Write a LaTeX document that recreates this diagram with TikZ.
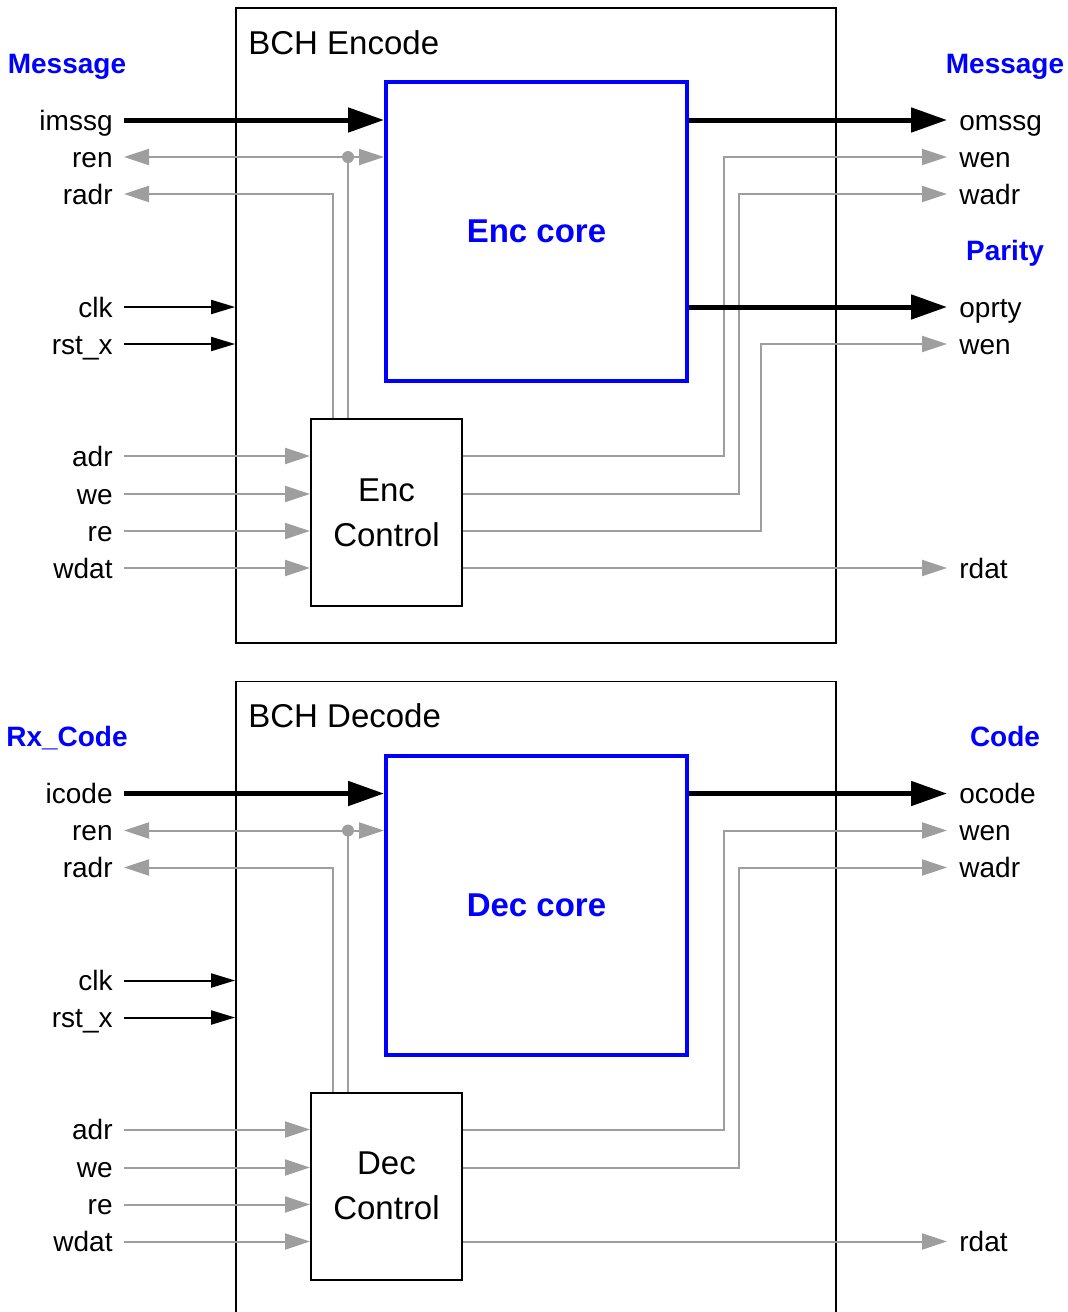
\documentclass[tikz,border=0pt]{standalone}
\usepackage{fontspec}
\setmainfont{Liberation Sans}
\usetikzlibrary{arrows.meta}
\definecolor{sigray}{HTML}{9E9E9E}

% One BCH block: frame, core, control unit and its ports
% #1 title, #2 core text, #3 control name, #4 input heading,
% #5 input port, #6 output heading, #7 output port
\newcommand\bchblock[7]{%
  \node[outerbox] (frame) at (536,325.5) {};
  \node[title] (ttl) at (248,54) {#1};
  \node[core] (core) at (536.5,231.5) {#2};
  \node[ctlbox] (ctl) at (386.5,512.5) {#3\\Control};
  \node[head] (hin) at (67,63) {#4};
  \node[head] (hout) at (1005,63) {#6};
  \node[lin] (in) at (124,120) {#5};
  \node[lin] (ren) at (124,157) {ren};
  \node[lin] (radr) at (124,194) {radr};
  \node[lin] (clk) at (124,307) {clk};
  \node[lin] (rst) at (124,344) {rst\_x};
  \node[lin] (adr) at (124,456) {adr};
  \node[lin] (we) at (124,494) {we};
  \node[lin] (re) at (124,531) {re};
  \node[lin] (wdat) at (124,568) {wdat};
  \node[lout] (out) at (947,120) {#7};
  \node[lout] (wen) at (947,157) {wen};
  \node[lout] (wadr) at (947,194) {wadr};
  \node[lout] (rdat) at (947,568) {rdat};
  \coordinate (renj) at (348,157);
  \coordinate (radrj) at (333,194);
  \coordinate (wenj) at (724,157);
  \coordinate (wadrj) at (739,194);
  % data path
  \draw[bus] (in.east) -- (in.east -| core.west);
  \draw[bus] (core.east |- out.west) -- (out.west);
  % clock and reset
  \draw[ctrl] (clk.east) -- (clk.east -| frame.west);
  \draw[ctrl] (rst.east) -- (rst.east -| frame.west);
  % memory read port
  \draw[sig, {sigtip}-{sigtip}] (ren.east) -- (ren.east -| core.west);
  \draw[sig, -] (renj |- ctl.north) -- (renj);
  \fill[sigray] (renj) circle (3pt);
  \draw[sig] (radrj |- ctl.north) -- (radrj) -- (radr.east);
  % register interface
  \draw[sig] (adr.east) -- (adr.east -| ctl.west);
  \draw[sig] (we.east) -- (we.east -| ctl.west);
  \draw[sig] (re.east) -- (re.east -| ctl.west);
  \draw[sig] (wdat.east) -- (wdat.east -| ctl.west);
  \draw[sig] (ctl.east |- adr.east) -| (wenj) -- (wen.west);
  \draw[sig] (ctl.east |- we.east) -| (wadrj) -- (wadr.west);
  \draw[sig] (ctl.east |- wdat.east) -- (rdat.west);
}

\begin{document}
\begin{tikzpicture}[x=0.5pt,y=-0.5pt,
  sigtip/.tip={Triangle[length=12.5pt,width=8pt]},
  lbl/.style={font=\fontsize{14}{16}\selectfont, text height=10pt, text depth=0pt, inner ysep=0pt},
  lin/.style={lbl, anchor=east, inner xsep=5.5pt},
  lout/.style={lbl, anchor=west, inner xsep=6pt},
  head/.style={font=\fontsize{14}{16}\selectfont\bfseries, text=blue, inner sep=0pt, text height=10pt, text depth=0pt},
  outerbox/.style={draw, line width=0.9pt, minimum width=300pt, minimum height=317.5pt, inner sep=0pt},
  title/.style={font=\fontsize{16.5}{18}\selectfont, anchor=base west, inner sep=0pt},
  core/.style={draw=blue, line width=2pt, minimum width=150.5pt, minimum height=149.5pt, text=blue, font=\fontsize{16.5}{18}\selectfont\bfseries},
  ctlbox/.style={draw, line width=1pt, fill=white, minimum width=75.5pt, minimum height=93.5pt, align=center, font=\fontsize{16.5}{22.5}\selectfont},
  bus/.style={line width=2.5pt, -{Triangle[length=18pt,width=12pt]}},
  ctrl/.style={line width=1pt, -{Triangle[length=12pt,width=7pt]}},
  sig/.style={draw=sigray, line width=1pt, -{sigtip}},
]
\useasboundingbox (0,0) rectangle (1067,1312);

% encoder
\begin{scope}[name prefix=e-]
  \bchblock{BCH Encode}{Enc core}{Enc}{Message}{imssg}{Message}{omssg}
  \node[head] (hpar) at (1005,250) {Parity};
  \node[lout] (oprty) at (947,307) {oprty};
  \node[lout] (wen2) at (947,344) {wen};
  \coordinate (wen2j) at (761,344);
  \draw[bus] (core.east |- oprty.west) -- (oprty.west);
  \draw[sig] (ctl.east |- re.east) -| (wen2j) -- (wen2.west);
\end{scope}

% decoder
\begin{scope}[name prefix=d-, shift={(0,673.5)}]
  \bchblock{BCH Decode}{Dec core}{Dec}{Rx\_Code}{icode}{Code}{ocode}
\end{scope}
\end{tikzpicture}
\end{document}
